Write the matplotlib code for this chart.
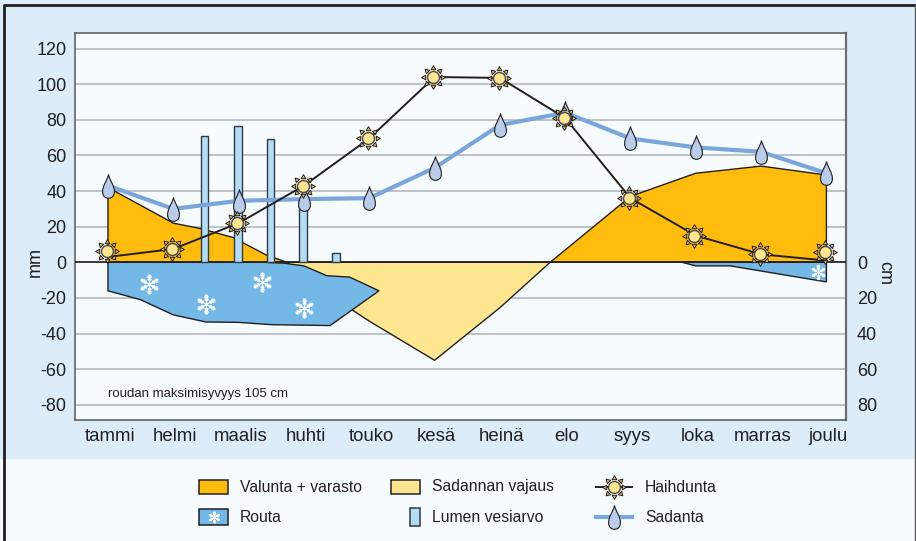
import matplotlib
matplotlib.use('Agg')
import matplotlib.pyplot as plt
import numpy as np
from matplotlib.lines import Line2D
from matplotlib.path import Path
from matplotlib.patches import Rectangle

plt.rcParams['font.family'] = ['Liberation Sans', 'DejaVu Sans']
plt.rcParams['axes.unicode_minus'] = False

W, H = 916, 541

# Data
kuukaudet = ['tammi', 'helmi', 'maalis', 'huhti', 'touko', 'kesä', 'heinä', 'elo', 'syys', 'loka', 'marras', 'joulu']
kk = list(range(12))
sadanta = [43, 30, 34.5, 35.5, 36, 53, 77, 84, 69.5, 64.5, 62, 50]
haihdunta = [3, 7.5, 22, 43, 69.5, 104, 103.5, 81, 36, 15, 4.5, 1]
haihdunta_merkki = [6.5, 7.5, 22, 43, 69.5, 104, 103.5, 81, 36, 15, 4.5, 6]
lumi_x = [1.48, 1.99, 2.49, 2.99, 3.49]
lumi = [71, 76.5, 69, 35, 5.5]
valunta1_x = [0, 0, 1, 1.41, 1.91, 2.43, 2.74]
valunta1_y = [0, 42, 22, 19, 14, 4, 0]
valunta2_x = [6.77, 8, 9, 10, 11, 11]
valunta2_y = [0, 37, 50, 54, 49, 0]
vajaus_x = [2.74, 6.77, 6, 5, 4, 3.5]
vajaus_y = [0, 0, -25.5, -55, -33, -21]
routa1_x = [0, 0, 0.5, 1, 1.5, 2, 2.5, 3.4, 4.15, 3.7, 3.35, 3, 2.7, 2.4]
routa1_y = [0, -16, -21, -29.5, -33.5, -33.7, -35, -35.5, -16, -8.3, -7.5, -2, -0.5, 0]
routa2_x = [8.79, 9, 9.53, 11, 11]
routa2_y = [0, -2, -2, -11, 0]
hiutale_x = [0.63, 1.5, 2.36, 3]
hiutale_y = [-12, -23.5, -11, -25.5]
hiutale2_x = [10.87]
hiutale2_y = [-5.5]
mm_ticks = list(range(-80, 121, 20))
cm_ticks = [0, -20, -40, -60, -80]

ORANSSI = '#FFBC0D'
KELTAINEN = '#FEE691'
SININEN = '#74B8E7'
LUMI = '#B5DCF5'
VIIVA = '#7BA6DC'
PISARA = '#B9CCE9'
TAUSTA = '#DCEDF9'
VAALEA = '#F6FBFE'
MUSTA = '#231F20'


def sun_rays():
    verts, codes = [], []
    for a in np.arange(8) * np.pi / 4:
        c, s = np.cos(a), np.sin(a)
        for r, d in [(0.66, 0.2), (1.0, 0.0), (0.66, -0.2)]:
            verts.append((r * c - d * s, r * s + d * c))
        verts.append(verts[-3])
        codes += [Path.MOVETO, Path.LINETO, Path.LINETO, Path.CLOSEPOLY]
    return Path(verts, codes)


def drop():
    verts = [(0, 1), (0.14, 0.45), (0.5, 0.1), (0.5, -0.45), (0.5, -0.85), (0.24, -1), (0, -1),
             (-0.24, -1), (-0.5, -0.85), (-0.5, -0.45), (-0.5, 0.1), (-0.14, 0.45), (0, 1), (0, 1)]
    codes = [Path.MOVETO] + [Path.CURVE4] * 12 + [Path.CLOSEPOLY]
    return Path(verts, codes)


def snowflake():
    verts, codes = [], []
    for a in np.arange(6) * np.pi / 3 + np.pi / 2:
        c, s = np.cos(a), np.sin(a)
        verts += [(0, 0), (c, s)]
        codes += [Path.MOVETO, Path.LINETO]
        for r, b in ((0.35, 0.25), (0.58, 0.3), (0.8, 0.2)):
            for da in (0.8, -0.8):
                verts += [(r * c, r * s), (r * c + b * np.cos(a + da), r * s + b * np.sin(a + da))]
                codes += [Path.MOVETO, Path.LINETO]
    return Path(verts, codes)


RAYS, DROP, FLAKE = sun_rays(), drop(), snowflake()


def draw_sun(a, x, y, z=8):
    a.plot(x, y, ls='', marker=RAYS, ms=17, mfc='#E8BE5A', mec=MUSTA, mew=0.7, zorder=z)
    a.plot(x, y, ls='', marker='o', ms=8.6, mfc=KELTAINEN, mec='#4A4A4A', mew=1, zorder=z + 0.1)


def draw_drop(a, x, y, z=7):
    a.plot(x, y, ls='', marker=DROP, ms=17, mfc=PISARA, mec=MUSTA, mew=0.8, zorder=z)


fig = plt.figure(figsize=(W / 100, H / 100), dpi=100, facecolor=TAUSTA)
fig.add_artist(Rectangle((0, 0), 1, 1 - 459 / H, transform=fig.transFigure, fc=VAALEA, ec='none', zorder=0))
fig.add_artist(Line2D([3.5 / W, 3.5 / W, 1], [0, 1 - 4.5 / H, 1 - 4.5 / H], transform=fig.transFigure,
                      color=MUSTA, lw=2, zorder=20))
fig.add_artist(Line2D([915 / W, 915 / W], [0, 1 - 4.5 / H], transform=fig.transFigure,
                      color='#55585A', lw=1, zorder=20))

ax = fig.add_axes([75 / W, 1 - 420 / H, (846 - 75) / W, (420 - 33) / H], facecolor=VAALEA)
ax.set_xlim(-0.505, 11.3)
ax.set_ylim(-88.5, 128.7)

ax.set_yticks(mm_ticks)
ax.set_xticks([k + 0.03 for k in kk])
ax.set_xticklabels(kuukaudet)
ax.tick_params(axis='y', length=0, labelsize=13, colors=MUSTA, pad=6)
ax.tick_params(axis='x', length=0, labelsize=13.4, colors=MUSTA, pad=6)
ax.grid(axis='y', color='#B4B8BC', lw=1.2, zorder=1)
ax.set_axisbelow(True)
for s in ax.spines.values():
    s.set_color('#55585A')
    s.set_linewidth(1.1)
ax.spines['right'].set_linewidth(1.6)
ax.spines['right'].set_color('#6D7175')

ax.fill(vajaus_x, vajaus_y, fc=KELTAINEN, ec=MUSTA, lw=1, zorder=2)
ax.fill(valunta1_x, valunta1_y, fc=ORANSSI, ec=MUSTA, lw=1, zorder=2.1)
ax.fill(valunta2_x, valunta2_y, fc=ORANSSI, ec=MUSTA, lw=1, zorder=2.1)
ax.fill(routa1_x, routa1_y, fc=SININEN, ec=MUSTA, lw=1, zorder=2.2)
ax.fill(routa2_x, routa2_y, fc=SININEN, ec=MUSTA, lw=1, zorder=2.2)
ax.axhline(0, color=MUSTA, lw=1.2, zorder=3)
ax.plot(hiutale_x, hiutale_y, ls='', marker=FLAKE, ms=14.5, mfc='none', mec='white', mew=0.9, zorder=3.5)
ax.plot(hiutale2_x, hiutale2_y, ls='', marker=FLAKE, ms=11, mfc='none', mec='white', mew=0.8, zorder=3.5)

ax.bar(lumi_x, lumi, width=0.118, color=LUMI, edgecolor='#2E3A45', lw=1, zorder=4)

ax.plot(kk, sadanta, color=VIIVA, lw=3, solid_joinstyle='round', zorder=5)
ax.plot(kk, haihdunta, color=MUSTA, lw=1.4, zorder=6)
draw_drop(ax, kk, sadanta)
draw_sun(ax, [k - 0.02 for k in kk], haihdunta_merkki)

ax.text(0.0, -74, 'roudan maksimisyvyys 105 cm', fontsize=9.5, color=MUSTA, va='center', zorder=6)

ax2 = ax.twinx()
ax2.set_ylim(ax.get_ylim())
ax2.set_yticks(cm_ticks)
ax2.set_yticklabels([str(abs(c)) for c in cm_ticks])
ax2.tick_params(axis='y', length=0, labelsize=13, colors=MUSTA, pad=8)
ax2.spines[:].set_visible(False)

fig.text(35 / W, 1 - 262 / H, 'mm', rotation=90, fontsize=13, color=MUSTA, ha='center', va='center')
fig.text(885 / W, 1 - 273 / H, 'cm', rotation=270, fontsize=13, color=MUSTA, ha='center', va='center')

# Selite pikseleissä
lg = fig.add_axes([0, 0, 1, 1], facecolor='none', zorder=10)
lg.set_xlim(0, W)
lg.set_ylim(H, 0)
lg.axis('off')
rivi1, rivi2 = 487, 517
lg.add_patch(Rectangle((199, rivi1 - 7), 29, 14, fc=ORANSSI, ec=MUSTA, lw=1.1))
lg.add_patch(Rectangle((199, rivi2 - 8), 29, 16, fc=SININEN, ec=MUSTA, lw=1.1))
lg.plot(213.5, rivi2, ls='', marker=FLAKE, ms=8.5, mfc='none', mec='white', mew=0.8)
lg.add_patch(Rectangle((391, rivi1 - 7), 29, 14, fc=KELTAINEN, ec=MUSTA, lw=1.1))
lg.add_patch(Rectangle((410, rivi2 - 9), 10, 18, fc=LUMI, ec='#2E3A45', lw=1.1))
lg.plot([596, 632], [rivi1, rivi1], color=MUSTA, lw=1.4)
draw_sun(lg, 614, rivi1)
lg.plot([596, 632], [rivi2, rivi2], color=VIIVA, lw=3)
draw_drop(lg, 614, rivi2)
for x, y, t in [(240, rivi1, 'Valunta + varasto'), (240, rivi2, 'Routa'),
                (432, rivi1, 'Sadannan vajaus'), (432, rivi2, 'Lumen vesiarvo'),
                (645, rivi1, 'Haihdunta'), (645, rivi2, 'Sadanta')]:
    lg.text(x, y, t, fontsize=11.35, color=MUSTA, va='center')

fig.savefig('out.png', dpi=100, facecolor=fig.get_facecolor())
